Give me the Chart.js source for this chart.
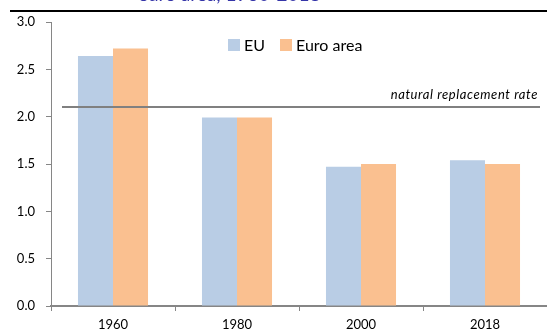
<!DOCTYPE html>
<html>
<head>
<meta charset="utf-8">
<script src="https://cdn.jsdelivr.net/npm/chart.js@4.4.1/dist/chart.umd.min.js"></script>
<style>
    html, body { margin: 0; padding: 0; background: #fff; overflow: hidden; }
    #wrap { position: relative; width: 547px; height: 332px; }
    #title {
        position: absolute; left: 138px; top: -18px;
        font-family: Lato, sans-serif; font-size: 19px; color: #3535a8;
        white-space: nowrap;
    }
    #rule { position: absolute; left: 10px; right: 0; top: 10px; height: 2px; background: #000; }
    canvas { position: absolute; left: 0; top: 0; }
</style>
</head>
<body>
<div id="wrap">
    <canvas id="fertility" width="547" height="332"></canvas>
    <div id="title">euro area, 1960-2018</div>
    <div id="rule"></div>
</div>
<script>
// --- Data ---
const years = ['1960', '1980', '2000', '2018'];
const euValues = [2.64, 1.99, 1.47, 1.54];
const euroAreaValues = [2.72, 1.99, 1.50, 1.50];
const seriesNames = ['EU', 'Euro area'];
const replacementRate = 2.1;
const replacementLabel = 'natural replacement rate';

const FONT = 'Lato, "Open Sans", sans-serif';
const AXIS = '#868686';

// horizontal reference line with its italic caption
const replacementLine = {
    id: 'replacementLine',
    afterDatasetsDraw(chart) {
        const { ctx, chartArea, scales } = chart;
        const y = Math.round(scales.y.getPixelForValue(replacementRate));
        ctx.save();
        ctx.strokeStyle = '#808080';
        ctx.lineWidth = 2;
        ctx.beginPath();
        ctx.moveTo(chartArea.left + 11, y);
        ctx.lineTo(chartArea.right - 7, y);
        ctx.stroke();
        ctx.font = 'italic 13px ' + FONT;
        ctx.fillStyle = '#000';
        ctx.textAlign = 'right';
        ctx.textBaseline = 'alphabetic';
        ctx.letterSpacing = '0.6px';
        ctx.fillText(replacementLabel, chartArea.right - 9, y - 8);
        ctx.restore();
    }
};

// legend drawn inside the plot area
const innerLegend = {
    id: 'innerLegend',
    afterDraw(chart) {
        const { ctx } = chart;
        ctx.save();
        ctx.font = '16px ' + FONT;
        ctx.textBaseline = 'middle';
        let x = 228;
        const y = 45;
        chart.data.datasets.forEach(ds => {
            ctx.fillStyle = ds.backgroundColor;
            ctx.fillRect(x, y - 6, 12, 12);
            ctx.fillStyle = '#000';
            ctx.fillText(ds.label, x + 16, y + 1);
            x += 16 + ctx.measureText(ds.label).width + 15;
        });
        ctx.restore();
    }
};

new Chart(document.getElementById('fertility').getContext('2d'), {
    type: 'bar',
    data: {
        labels: years,
        datasets: [{
            label: seriesNames[0],
            data: euValues,
            backgroundColor: '#b9cde5',
            categoryPercentage: 0.565,
            barPercentage: 1
        }, {
            label: seriesNames[1],
            data: euroAreaValues,
            backgroundColor: '#fac090',
            categoryPercentage: 0.565,
            barPercentage: 1
        }]
    },
    options: {
        responsive: false,
        animation: false,
        devicePixelRatio: 1,
        layout: { padding: { top: 22, right: 0, left: 0, bottom: 0 } },
        plugins: { legend: { display: false }, tooltip: { enabled: false } },
        scales: {
            x: {
                grid: { drawOnChartArea: false, drawTicks: true, tickLength: 5, color: AXIS, offset: true },
                border: { color: AXIS, width: 2 },
                ticks: { color: '#000', font: { family: FONT, size: 13 }, padding: 6 },
                afterFit(scale) { scale.height = 26; }
            },
            y: {
                min: 0,
                max: 3,
                grid: { drawOnChartArea: false, drawTicks: true, tickLength: 5, color: AXIS },
                border: { color: AXIS, width: 1 },
                ticks: {
                    stepSize: 0.5,
                    color: '#000',
                    font: { family: FONT, size: 13 },
                    padding: 11,
                    callback: v => v.toFixed(1)
                },
                afterFit(scale) { scale.width = 51; }
            }
        }
    },
    plugins: [replacementLine, innerLegend]
});
</script>
</body>
</html>
